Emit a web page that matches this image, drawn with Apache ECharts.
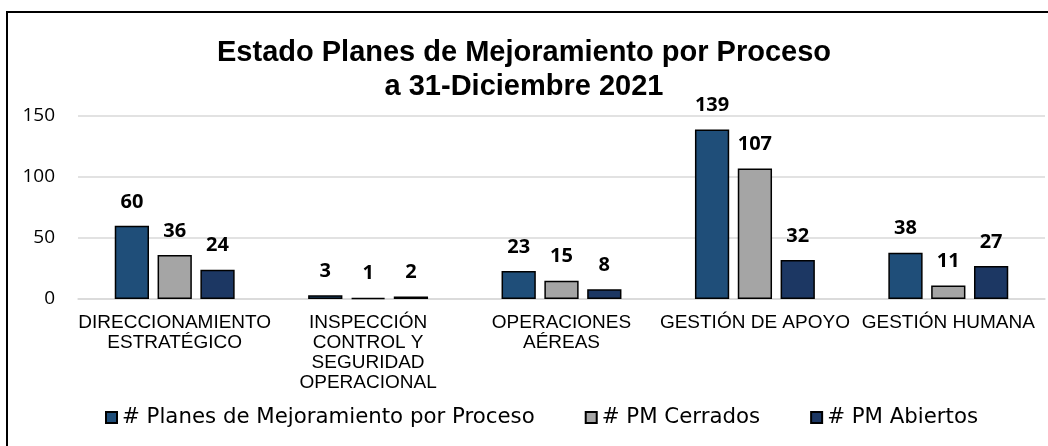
<!DOCTYPE html>
<html>
<head>
<meta charset="utf-8">
<script src="https://cdn.jsdelivr.net/npm/echarts@6/dist/echarts.min.js"></script>
<style>
  html, body { margin: 0; padding: 0; background: #fff; }
  #chart { width: 1048px; height: 446px; }
</style>
</head>
<body>
<div id="chart"></div>
<script>
// datos del gráfico
var procesos = [
    'DIRECCIONAMIENTO\nESTRATÉGICO',
    'INSPECCIÓN\nCONTROL Y\nSEGURIDAD\nOPERACIONAL',
    'OPERACIONES\nAÉREAS',
    'GESTIÓN DE APOYO',
    'GESTIÓN HUMANA'
];
var planesPorProceso = [60, 3, 23, 139, 38];
var pmCerrados = [36, 1, 15, 107, 11];
var pmAbiertos = [24, 2, 8, 32, 27];
var nombresSeries = ['# Planes de Mejoramiento por Proceso', '# PM Cerrados', '# PM Abiertos'];
var colores = ['#1F4E79', '#A5A5A5', '#1C3763'];

var myChart = echarts.init(document.getElementById('chart'));

function serie(nombre, datos, color) {
    return {
        name: nombre,
        type: 'bar',
        data: datos,
        barGap: '25%',
        barCategoryGap: '38%',
        itemStyle: {
            color: color,
            borderColor: '#000',
            borderWidth: 1.5
        },
        label: {
            show: true,
            position: 'top',
            distance: 14,
            fontFamily: 'Open Sans',
            fontWeight: 'bold',
            fontSize: 20,
            color: '#000'
        }
    };
}

var option = {
    animation: false,
    backgroundColor: '#fff',
    title: {
        text: 'Estado Planes de Mejoramiento por Proceso\na 31-Diciembre 2021',
        left: 'center',
        top: 31,
        textStyle: {
            fontFamily: 'Liberation Sans',
            fontWeight: 'bold',
            fontSize: 29,
            lineHeight: 34,
            color: '#000'
        }
    },
    legend: {
        left: 100,
        top: 402,
        itemWidth: 11,
        itemHeight: 11,
        itemGap: 50,
        icon: 'rect',
        textStyle: {
            fontFamily: 'DejaVu Sans',
            fontSize: 21.3,
            color: '#000'
        },
        data: nombresSeries
    },
    grid: {
        left: 78,
        right: 3,
        top: 116,
        bottom: 147,
        containLabel: false
    },
    xAxis: {
        type: 'category',
        data: procesos,
        axisTick: { show: false },
        axisLine: { lineStyle: { color: '#D9D9D9', width: 1.5 } },
        axisLabel: {
            interval: 0,
            margin: 14,
            fontFamily: 'Liberation Sans',
            fontSize: 19,
            lineHeight: 20,
            color: '#000'
        }
    },
    yAxis: {
        type: 'value',
        min: 0,
        max: 150,
        interval: 50,
        axisLine: { show: false },
        axisTick: { show: false },
        splitLine: { lineStyle: { color: '#D9D9D9', width: 1.5 } },
        axisLabel: {
            margin: 23,
            fontFamily: 'Open Sans',
            fontSize: 19,
            color: '#000'
        }
    },
    graphic: [{
        type: 'rect',
        shape: { x: 7, y: 12, width: 1045, height: 440 },
        style: { fill: null, stroke: '#000', lineWidth: 2 },
        silent: true
    }],
    series: [
        serie(nombresSeries[0], planesPorProceso, colores[0]),
        serie(nombresSeries[1], pmCerrados, colores[1]),
        serie(nombresSeries[2], pmAbiertos, colores[2])
    ]
};

myChart.setOption(option);
</script>
</body>
</html>
